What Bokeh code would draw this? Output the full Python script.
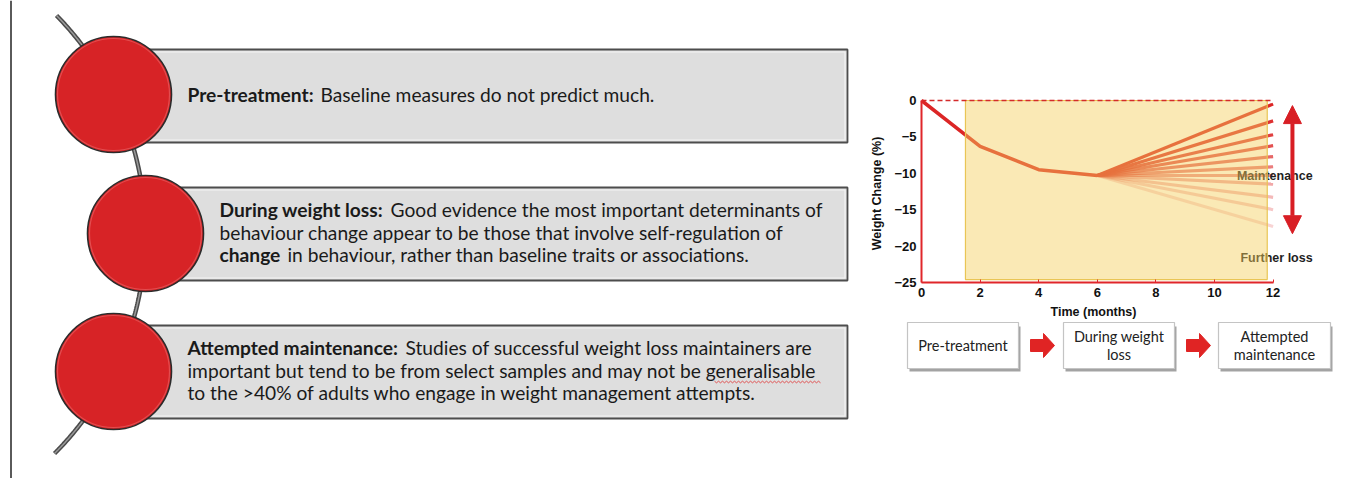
import numpy as np
from bokeh.plotting import figure
from bokeh.models import Range1d, Arrow, NormalHead, FixedTicker, ColumnDataSource, LinearAxis
from bokeh.embed import file_html
from bokeh.resources import INLINE
from bokeh.core.properties import value

# ---------------- data ----------------
months = [0, 2, 4, 6]
weight_change = [0, -6.3, -9.5, -10.3]
fan_start_month = 6
fan_end_month = 12
fan_end_change = [-0.5, -2.8, -4.7, -6.2, -7.7, -9.1, -10.3, -11.5, -13.3, -15.0, -17.3]
fan_alpha = [1.0, 0.95, 0.88, 0.8, 0.7, 0.6, 0.5, 0.4, 0.32, 0.26, 0.2]
x_ticks = [0, 2, 4, 6, 8, 10, 12]
y_ticks = [0, -5, -10, -15, -20, -25]
shade_months = [1.5, 11.8]
shade_change = [-24.6, 0]
range_arrow = [-0.7, -18.3]
outcome_labels = ["Maintenance", "Further loss"]
outcome_change = [-10.4, -21.6]
stage_boxes = ["Pre-treatment", "During weight\nloss", "Attempted\nmaintenance"]

panel_lines = [
    # (text, bold, x, y)
    ("Pre-treatment:", True, 187, 94),
    ("Baseline measures do not predict much.", False, 320, 94),
    ("During weight loss:", True, 219, 209),
    ("Good evidence the most important determinants of", False, 390, 209),
    ("behaviour change appear to be those that involve self-regulation of", False, 219, 232),
    ("change", True, 219, 254),
    ("in behaviour, rather than baseline traits or associations.", False, 287, 254),
    ("Attempted maintenance:", True, 187, 347),
    ("Studies of successful weight loss maintainers are", False, 405, 347),
    ("important but tend to be from select samples and may not be generalisable", False, 187, 370),
    ("to the >40% of adults who engage in weight management attempts.", False, 187, 392),
]

TXT_FONT = "Lato"
CH_FONT = "Liberation Sans"
W, H = 1342, 478

# chart placement (page pixels): month 0 at x=921, 29.3 px per month; 0 % at y=100, 7.28 px per %
m_lo, m_hi = -921 / 29.3, (W - 921) / 29.3
w_lo, w_hi = (100 - H) / 7.28, 100 / 7.28

p = figure(width=W, height=H, x_range=Range1d(0, W), y_range=Range1d(H, 0),
           output_backend="svg", toolbar_location=None, min_border=0,
           x_axis_type=None, y_axis_type=None)
p.grid.visible = False
p.outline_line_color = None
p.background_fill_color = "white"
p.border_fill_color = "white"
p.extra_x_ranges = {"months": Range1d(m_lo, m_hi)}
p.extra_y_ranges = {"wc": Range1d(w_lo, w_hi)}
CH = dict(x_range_name="months", y_range_name="wc")

# ================= left panel =================
p.line([10.5, 10.5], [0, H], line_color="#5a5a5a", line_width=2)

cx, cy, R = -166.5, 233.0, 311.5
th = np.linspace(np.arcsin((15 - cy) / R), np.arcsin((453 - cy) / R), 200)
ax = cx + R * np.cos(th)
ay = cy + R * np.sin(th)
p.line(ax, ay, line_color="#4a4a4a", line_width=4.5)
p.line(ax, ay, line_color="#9a9a9a", line_width=1.5)

bx_left = [112, 145, 112]
bx_top = [49, 187, 325]
bx_bot = [142, 280, 418]
p.quad(left=bx_left, right=[847] * 3, top=bx_top, bottom=bx_bot,
       fill_color="#dedede", line_color="#4d4d4d", line_width=1.8)
p.quad(left=[b + 2.5 for b in bx_left], right=[844.5] * 3,
       top=[t + 2.5 for t in bx_top], bottom=[b - 2.5 for b in bx_bot],
       fill_color=None, line_color="#f3f3f3", line_width=1.2)

ccx = [113, 145, 113]
ccy = [94, 233, 371]
p.circle(ccx, ccy, radius=58, fill_color="#d72326", line_color="#2b2b2b", line_width=1.6)
p.circle(ccx, ccy, radius=56, fill_color=None, line_color="#e5575a", line_width=1.2, line_alpha=0.8)

for txt, bold, x, y in panel_lines:
    p.text(x=[x], y=[y], text=[txt], text_font=value(TXT_FONT), text_font_size="19.2px",
           text_font_style="bold" if bold else "normal", text_color="#1a1a1a",
           text_baseline="middle", text_align="left")

gx = np.arange(714, 822, 2.0)
gy = 381.5 + 0.8 * ((np.arange(len(gx)) % 2) * 2 - 1)
p.line(gx, gy, line_color="#e03030", line_width=0.8)

# ================= chart =================
fan_src = ColumnDataSource(dict(
    xs=[[fan_start_month, fan_end_month] for _ in fan_end_change],
    ys=[[weight_change[-1], e] for e in fan_end_change],
    a=fan_alpha,
))
p.multi_line(xs="xs", ys="ys", line_alpha="a", line_color="#dc2626", line_width=3.2, source=fan_src, **CH)
p.line(months, weight_change, line_color="#dc2626", line_width=3.5, **CH)

for lab, yv in zip(outcome_labels, outcome_change):
    p.text(x=[13.35], y=[yv], text=[lab], text_font=value(CH_FONT), text_font_style="bold",
           text_font_size="12.5px", text_color="#1f1f1f", text_align="right", text_baseline="middle", **CH)

# shaded treatment period (semi-transparent overlay)
p.quad(left=[shade_months[0]], right=[shade_months[1]], bottom=[shade_change[0]], top=[shade_change[1]],
       fill_color="#f5cf5a", fill_alpha=0.45, line_color="#e9c555", line_width=1.2, **CH)

# dashed zero line (on top)
p.line([0, fan_end_month], [0, 0], line_color="#d42a2a", line_width=1.6, line_dash="5 3", **CH)

# axes
xax = LinearAxis(fixed_location=-25, bounds=(0, 12), ticker=FixedTicker(ticks=x_ticks), **CH)
yax = LinearAxis(fixed_location=0, bounds=(-25, 0), ticker=FixedTicker(ticks=y_ticks), **CH)
for axis in (xax, yax):
    axis.axis_line_color = "#e0262a"
    axis.axis_line_width = 2
    axis.major_tick_line_color = "#e0262a"
    axis.minor_tick_line_color = None
    axis.major_label_text_font = CH_FONT
    axis.major_label_text_font_style = "bold"
    axis.major_label_text_font_size = "13px"
    axis.major_label_text_color = "#111111"
    axis.major_label_standoff = 5
xax.major_tick_in = 3
xax.major_tick_out = 0
yax.major_tick_in = 0
yax.major_tick_out = 0
p.add_layout(xax, "below")
p.add_layout(yax, "left")

p.text(x=[876], y=[193], text=["Weight Change (%)"], angle=np.pi / 2, text_font=value(CH_FONT),
       text_font_style="bold", text_font_size="12.5px", text_color="#111111",
       text_align="center", text_baseline="middle")
p.text(x=[1093], y=[311], text=["Time (months)"], text_font=value(CH_FONT), text_font_style="bold",
       text_font_size="12.5px", text_color="#111111", text_align="center", text_baseline="middle")

p.add_layout(Arrow(x_start=12.66, y_start=range_arrow[0], x_end=12.66, y_end=range_arrow[1],
                   line_color="#d81e24", line_width=4,
                   start=NormalHead(size=18, fill_color="#d81e24", line_color="#d81e24"),
                   end=NormalHead(size=18, fill_color="#d81e24", line_color="#d81e24"), **CH))

# ================= stage flow =================
box_l = [907, 1063, 1218]
box_r = [1018, 1174, 1330]
p.quad(left=[b + 2 for b in box_l], right=[b + 2 for b in box_r], top=[326] * 3, bottom=[371] * 3,
       fill_color="#8c8c8c", line_color=None, fill_alpha=0.8)
p.quad(left=box_l, right=box_r, top=[322] * 3, bottom=[368] * 3,
       fill_color="white", line_color="#c4c4c4", line_width=1.2)

for lab, l, r in zip(stage_boxes, box_l, box_r):
    parts = lab.split("\n")
    mid = (l + r) / 2
    ys = [345] if len(parts) == 1 else [336, 354]
    for t, yy in zip(parts, ys):
        p.text(x=[mid], y=[yy], text=[t], text_font=value(TXT_FONT), text_font_size="14.5px",
               text_color="#222222", text_align="center", text_baseline="middle")

for ax0 in [1030, 1186]:
    xs = [ax0, ax0 + 13, ax0 + 13, ax0 + 24, ax0 + 13, ax0 + 13, ax0]
    ys = [339, 339, 333, 345, 357, 351, 351]
    p.patch(xs, ys, fill_color="#e02424", line_color="#e02424")

open("out.html", "w").write(file_html(p, INLINE))
